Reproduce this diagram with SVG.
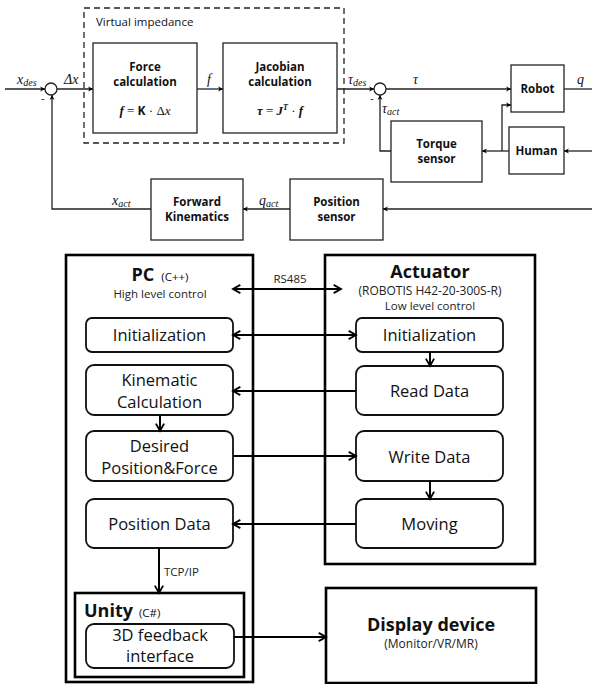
<svg xmlns="http://www.w3.org/2000/svg" width="592" height="684" viewBox="0 0 592 684">
<defs>
<marker id="a1" viewBox="0 0 10 10" refX="9" refY="5" markerWidth="6" markerHeight="6" markerUnits="userSpaceOnUse" orient="auto-start-reverse">
<path d="M1,1 L9,5 L1,9 L3,5 Z" fill="#000"/>
</marker>
<marker id="a2" viewBox="0 0 12 12" refX="10" refY="6" markerWidth="11" markerHeight="11" markerUnits="userSpaceOnUse" orient="auto-start-reverse">
<path d="M2,1.5 L10,6 L2,10.5" fill="none" stroke="#000" stroke-width="2"/>
</marker>
</defs>
<style>
.b1{fill:#fff;stroke:#222;stroke-width:1.3}
.dash{fill:none;stroke:#222;stroke-width:1.3;stroke-dasharray:6,4}
.ln1{fill:none;stroke:#222;stroke-width:1.3}
.ar1{fill:none;stroke:#222;stroke-width:1.3;marker-end:url(#a1)}
.tb{font-family:"Open Sans","Noto Sans",sans-serif;font-weight:bold;font-size:11.5px;fill:#111;text-anchor:middle}
.tn{font-family:"Open Sans","Noto Sans",sans-serif;font-size:11.5px;fill:#111}
.m{font-family:"Liberation Serif",serif;font-style:italic;font-size:14px;fill:#111}
.ms{font-size:10px}
.fm{font-family:"Liberation Serif",serif;font-size:13px;fill:#111;text-anchor:middle}
.big{fill:#fff;stroke:#000;stroke-width:2.6}
.rb{fill:#fff;stroke:#111;stroke-width:1.8}
.ln2{fill:none;stroke:#000;stroke-width:2}
.ar2{fill:none;stroke:#000;stroke-width:2;marker-end:url(#a2)}
.ar2b{fill:none;stroke:#000;stroke-width:2;marker-end:url(#a2);marker-start:url(#a2)}
.t17{font-family:"Open Sans","Noto Sans",sans-serif;font-size:16.5px;fill:#111;text-anchor:middle}
.ttl{font-family:"Open Sans","Noto Sans",sans-serif;font-weight:bold;font-size:18px;fill:#111}
.sub{font-family:"Open Sans","Noto Sans",sans-serif;font-size:12px;fill:#222;text-anchor:middle}
.sm{font-family:"Open Sans","Noto Sans",sans-serif;font-size:11.5px;fill:#222;text-anchor:middle}
.sml{font-family:"Open Sans","Noto Sans",sans-serif;font-size:11.5px;fill:#222}
</style>

<!-- ===== Top block diagram ===== -->
<g id="virtual-impedance">
<rect class="dash" x="84" y="8" width="260" height="135"/>
<text class="tn" x="96" y="26">Virtual impedance</text>
</g>
<g id="force-calc">
<rect class="b1" x="93" y="43" width="104" height="90"/>
<text class="tb" x="145" y="71">Force</text>
<text class="tb" x="145" y="86">calculation</text>
<text class="fm" x="145" y="115"><tspan font-weight="bold" font-style="italic">f</tspan> = <tspan font-family="Open Sans" font-weight="bold" font-size="12">K</tspan> · Δ<tspan font-style="italic">x</tspan></text>
</g>
<g id="jacobian-calc">
<rect class="b1" x="223" y="43" width="114" height="90"/>
<text class="tb" x="280" y="71">Jacobian</text>
<text class="tb" x="280" y="86">calculation</text>
<text class="fm" x="280" y="115"><tspan font-weight="bold" font-style="italic">τ</tspan> = <tspan font-weight="bold" font-style="italic">J</tspan><tspan font-weight="bold" font-style="italic" font-size="8" dy="-5">T</tspan><tspan dy="5"> · </tspan><tspan font-weight="bold" font-style="italic">f</tspan></text>
</g>
<g id="sum1">
<circle class="b1" cx="51" cy="89" r="6"/>
<text class="tn" x="41" y="102" font-size="12">-</text>
</g>
<g id="sum2">
<circle class="b1" cx="380" cy="89" r="6"/>
<text class="tn" x="370" y="102" font-size="12">-</text>
</g>
<g id="robot">
<rect class="b1" x="511" y="65" width="53" height="47"/>
<text class="tb" x="537.5" y="93">Robot</text>
</g>
<g id="human">
<rect class="b1" x="509" y="127" width="55" height="47"/>
<text class="tb" x="536.5" y="155">Human</text>
</g>
<g id="torque-sensor">
<rect class="b1" x="391" y="121" width="91" height="61"/>
<text class="tb" x="436.5" y="148">Torque</text>
<text class="tb" x="436.5" y="163">sensor</text>
</g>
<g id="position-sensor">
<rect class="b1" x="290" y="179" width="93" height="61"/>
<text class="tb" x="336.5" y="206">Position</text>
<text class="tb" x="336.5" y="221">sensor</text>
</g>
<g id="forward-kinematics">
<rect class="b1" x="151" y="179" width="92" height="61"/>
<text class="tb" x="197" y="206">Forward</text>
<text class="tb" x="197" y="221">Kinematics</text>
</g>

<g id="connectors-top">
<path class="ar1" d="M5,89 H45"/>
<path class="ar1" d="M57,89 H93"/>
<path class="ar1" d="M197,89 H223"/>
<path class="ar1" d="M337,89 H374"/>
<path class="ar1" d="M386,89 H511"/>
<path class="ln1" d="M564,89 H592"/>
<path class="ar1" d="M592,151 H564"/>
<path class="ar1" d="M509,151 H482"/>
<path class="ar1" d="M502,151 V105 H511"/>
<path class="ar1" d="M391,151 H380 V95"/>
<path class="ar1" d="M592,209 H383"/>
<path class="ar1" d="M290,209 H243"/>
<path class="ar1" d="M151,209 H52 V95"/>
<text class="m" x="17" y="84">x<tspan class="ms" dy="2">des</tspan></text>
<text class="m" x="64" y="84" font-style="normal">Δ<tspan font-style="italic">x</tspan></text>
<text class="m" x="207" y="84">f</text>
<text class="m" x="348" y="84">τ<tspan class="ms" dy="2">des</tspan></text>
<text class="m" x="413" y="84">τ</text>
<text class="m" x="577" y="84">q</text>
<text class="m" x="382" y="113">τ<tspan class="ms" dy="2">act</tspan></text>
<text class="m" x="259" y="205">q<tspan class="ms" dy="2">act</tspan></text>
<text class="m" x="112" y="205">x<tspan class="ms" dy="2">act</tspan></text>
</g>

<!-- ===== Bottom architecture ===== -->
<g id="pc">
<rect class="big" x="66" y="255" width="187" height="427"/>
<text x="160" y="281" text-anchor="middle"><tspan class="ttl">PC</tspan><tspan class="tn" font-size="13" dx="4"> (C++)</tspan></text>
<text class="sm" x="160" y="298">High level control</text>
</g>
<g id="actuator">
<rect class="big" x="325" y="255" width="210" height="309"/>
<text class="ttl" x="430" y="278" text-anchor="middle">Actuator</text>
<text class="sub" x="430" y="295">(ROBOTIS  H42-20-300S-R)</text>
<text class="sm" x="430" y="310">Low level control</text>
</g>
<g id="pc-init">
<rect class="rb" x="86" y="318" width="147" height="34" rx="6"/>
<text class="t17" x="159.5" y="341">Initialization</text>
</g>
<g id="act-init">
<rect class="rb" x="356" y="318" width="147" height="34" rx="6"/>
<text class="t17" x="429.5" y="341">Initialization</text>
</g>
<g id="kinematic">
<rect class="rb" x="86" y="365" width="147" height="50" rx="8"/>
<text class="t17" x="159.5" y="386">Kinematic</text>
<text class="t17" x="159.5" y="408">Calculation</text>
</g>
<g id="read-data">
<rect class="rb" x="356" y="366" width="147" height="49" rx="8"/>
<text class="t17" x="429.5" y="397">Read  Data</text>
</g>
<g id="desired">
<rect class="rb" x="86" y="431" width="147" height="50" rx="8"/>
<text class="t17" x="159.5" y="452">Desired</text>
<text class="t17" x="159.5" y="474">Position&amp;Force</text>
</g>
<g id="write-data">
<rect class="rb" x="356" y="431" width="147" height="50" rx="8"/>
<text class="t17" x="429.5" y="463">Write Data</text>
</g>
<g id="position-data">
<rect class="rb" x="86" y="499" width="147" height="49" rx="8"/>
<text class="t17" x="159.5" y="530">Position  Data</text>
</g>
<g id="moving">
<rect class="rb" x="356" y="499" width="147" height="49" rx="8"/>
<text class="t17" x="429.5" y="530">Moving</text>
</g>
<g id="unity">
<rect class="big" x="75" y="593" width="169" height="84"/>
<text x="84" y="617"><tspan class="ttl">Unity</tspan><tspan class="tn" font-size="13" dx="3"> (C#)</tspan></text>
</g>
<g id="feedback">
<rect class="rb" x="86" y="624" width="148" height="44" rx="8"/>
<text class="t17" x="160" y="641" font-size="15">3D feedback</text>
<text class="t17" x="160" y="662" font-size="15">interface</text>
</g>
<g id="display">
<rect class="big" x="326" y="588" width="210" height="95"/>
<text class="ttl" x="431" y="631" text-anchor="middle">Display device</text>
<text class="sub" x="431" y="648">(Monitor/VR/MR)</text>
</g>

<g id="connectors-bottom">
<path class="ar2b" d="M233,289 H341"/>
<text class="sm" x="290" y="283">RS485</text>
<path class="ar2b" d="M233,335 H356"/>
<path class="ar2" d="M430,352 V366"/>
<path class="ar2" d="M356,391 H233"/>
<path class="ar2" d="M160,415 V431"/>
<path class="ar2" d="M233,456 H356"/>
<path class="ar2" d="M430,481 V499"/>
<path class="ar2" d="M356,524 H233"/>
<path class="ar2" d="M159,548 V593"/>
<text class="sml" x="164" y="576">TCP/IP</text>
<path class="ar2" d="M234,637 H326"/>
</g>
</svg>
